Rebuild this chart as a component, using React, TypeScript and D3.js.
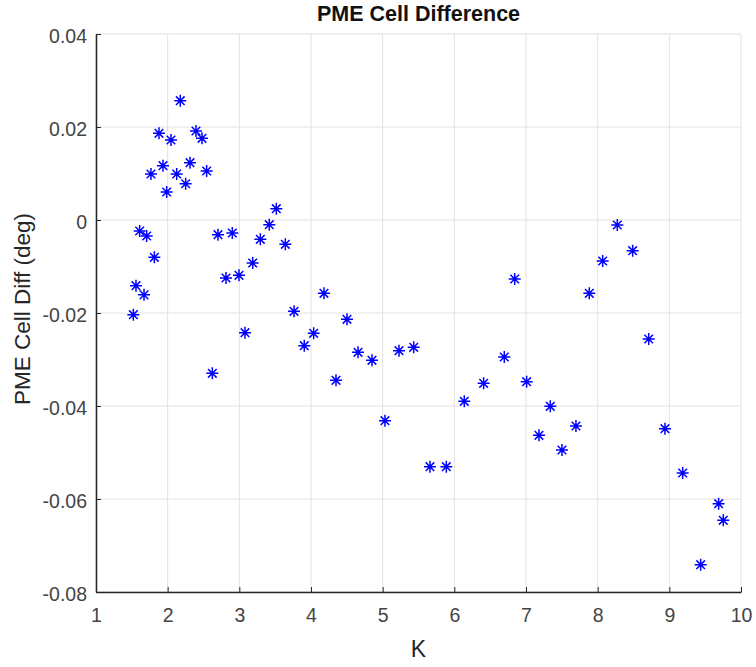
import { useEffect, useRef } from 'react';
import * as d3 from 'd3';

// K values and the PME cell difference
const kValues = [
  1.521, 1.558, 1.609, 1.670, 1.707, 1.767, 1.814, 1.879, 1.935, 1.986,
  2.046, 2.126, 2.176, 2.251, 2.312, 2.395, 2.479, 2.544, 2.623, 2.702,
  2.814, 2.902, 2.995, 3.079, 3.186, 3.293, 3.418, 3.516, 3.642, 3.763,
  3.906, 4.037, 4.181, 4.349, 4.502, 4.656, 4.851, 5.032, 5.228, 5.433,
  5.660, 5.888, 6.139, 6.409, 6.697, 6.842, 7.009, 7.181, 7.339, 7.502,
  7.697, 7.883, 8.070, 8.274, 8.488, 8.712, 8.939, 9.186, 9.437, 9.688,
  9.753,
];
const cellDiff = [
  -0.02036, -0.01412, -0.00237, -0.0161, -0.00344, 0.00989, -0.00803, 0.01864, 0.01168, 0.00602,
  0.0172, 0.00989, 0.02566, 0.0078, 0.01233, 0.01914, 0.01757, 0.01054, -0.03297, -0.00315,
  -0.01247, -0.0028, -0.0119, -0.02423, -0.00925, -0.00416, -0.001, 0.00244, -0.00523, -0.01964,
  -0.02703, -0.02437, -0.01577, -0.03448, -0.02136, -0.02846, -0.03018, -0.04315, -0.0281, -0.02738,
  -0.05305, -0.05305, -0.039, -0.03513, -0.02946, -0.01269, -0.03477, -0.0463, -0.04007, -0.04946,
  -0.0443, -0.01577, -0.00882, -0.00108, -0.0066, -0.02559, -0.04487, -0.05441, -0.07412, -0.06101,
  -0.06459,
];
const xTicks = [1, 2, 3, 4, 5, 6, 7, 8, 9, 10];
const yTicks = [-0.08, -0.06, -0.04, -0.02, 0, 0.02, 0.04];

const title = 'PME Cell Difference';
const xLabel = 'K';
const yLabel = 'PME Cell Diff (deg)';

const width = 756;
const height = 667;

export default function App() {
  const svgRef = useRef<SVGSVGElement>(null);

  useEffect(() => {
    if (!svgRef.current) return;
    const svg = d3.select(svgRef.current);
    svg.selectAll('*').remove();

    const margin = { top: 34, right: 15, bottom: 75, left: 96 };
    const x = d3.scaleLinear().domain([1, 10]).range([margin.left, width - margin.right]);
    const y = d3.scaleLinear().domain([-0.08, 0.04]).range([height - margin.bottom, margin.top]);
    const font = '"Liberation Sans", Arial, Helvetica, sans-serif';

    svg.append('rect').attr('width', width).attr('height', height).attr('fill', '#fff');

    // grid
    const grid = svg.append('g').attr('stroke', '#e2e2e2').attr('stroke-width', 1);
    grid.selectAll('.gx').data(xTicks).enter().append('line')
      .attr('x1', d => x(d)).attr('x2', d => x(d))
      .attr('y1', y(-0.08)).attr('y2', y(0.04));
    grid.selectAll('.gy').data(yTicks).enter().append('line')
      .attr('x1', x(1)).attr('x2', x(10))
      .attr('y1', d => y(d)).attr('y2', d => y(d));

    // axes (ticks point inward, like MATLAB)
    const xAxis = svg.append('g')
      .attr('transform', `translate(0, ${y(-0.08)})`)
      .call(d3.axisBottom(x).tickValues(xTicks).tickFormat(d3.format('d')).tickSizeInner(-5).tickSizeOuter(0).tickPadding(16));
    const yAxis = svg.append('g')
      .attr('transform', `translate(${x(1)}, 0)`)
      .call(d3.axisLeft(y).tickValues(yTicks).tickFormat(d => (d === 0 ? '0' : String(d))).tickSizeInner(-5).tickSizeOuter(0).tickPadding(9));

    [xAxis, yAxis].forEach(ax => {
      ax.select('.domain').attr('stroke', '#262626').attr('stroke-width', 1.5);
      ax.selectAll('.tick line').attr('stroke', '#262626').attr('stroke-width', 1);
      ax.selectAll('text')
        .attr('fill', '#444')
        .attr('font-size', '19.5px')
        .style('font-family', font);
    });
    yAxis.selectAll('text').attr('dy', '0.45em');

    // asterisk markers
    const pts = kValues.map((k, i) => ({ k, v: cellDiff[i] }));
    const a = 6;
    const b = 4.3;
    const star = `M${-a},0H${a}M0,${-a}V${a}M${-b},${-b}L${b},${b}M${-b},${b}L${b},${-b}`;
    svg.append('g').selectAll('path').data(pts).enter().append('path')
      .attr('transform', d => `translate(${x(d.k)}, ${y(d.v)})`)
      .attr('d', star)
      .attr('stroke', '#0000ff')
      .attr('stroke-width', 1.5)
      .attr('fill', 'none');

    // labels
    svg.append('text')
      .attr('x', (x(1) + x(10)) / 2).attr('y', 21)
      .attr('text-anchor', 'middle')
      .attr('font-size', '21.5px').attr('font-weight', 700)
      .attr('fill', '#111')
      .style('font-family', font)
      .text(title);

    svg.append('text')
      .attr('x', (x(1) + x(10)) / 2).attr('y', 657)
      .attr('text-anchor', 'middle')
      .attr('font-size', '23px')
      .attr('fill', '#262626')
      .style('font-family', font)
      .text(xLabel);

    svg.append('text')
      .attr('transform', `translate(30, ${(y(-0.08) + y(0.04)) / 2 - 4}) rotate(-90)`)
      .attr('text-anchor', 'middle')
      .attr('font-size', '22.5px')
      .attr('fill', '#262626')
      .style('font-family', font)
      .text(yLabel);
  }, []);

  return (
    <svg
      ref={svgRef}
      width={width}
      height={height}
      style={{ position: 'absolute', left: 0, top: 0, display: 'block' }}
    />
  );
}
